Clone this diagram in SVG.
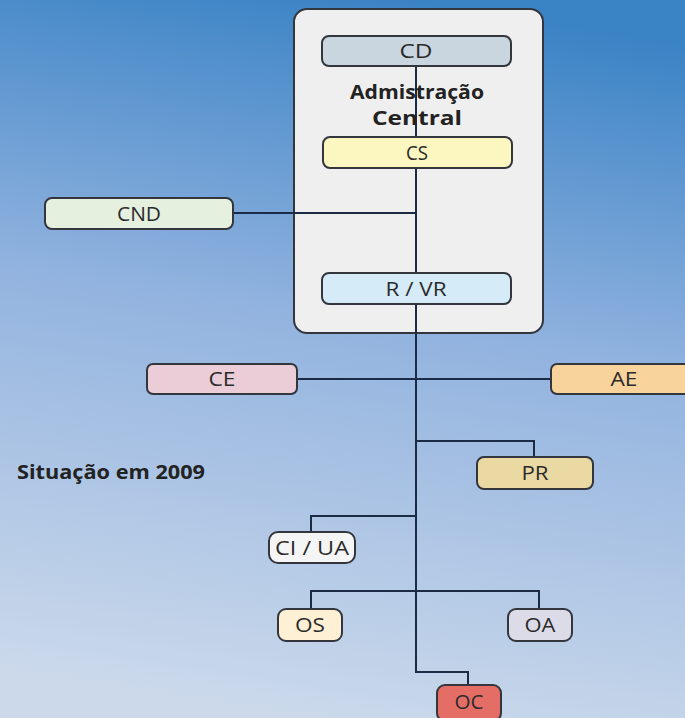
<svg xmlns="http://www.w3.org/2000/svg" width="685" height="718" viewBox="0 0 685 718">
<defs>
<linearGradient id="bg" x1="0.6" y1="0" x2="0.45" y2="1">
<stop offset="0" stop-color="#3a83c5"/>
<stop offset="0.45" stop-color="#92b3df"/>
<stop offset="1" stop-color="#cbd9eb"/>
</linearGradient>
<style>
.node rect{stroke:#33363d;stroke-width:2}
.lbl{font-family:"Open Sans","Liberation Sans",sans-serif;font-size:20px;fill:#2b2b2b;text-anchor:middle}
.bold{font-family:"Open Sans","Liberation Sans",sans-serif;font-size:19px;font-weight:bold;fill:#222;text-anchor:middle}
.conn{fill:none;stroke:#1b2a45;stroke-width:2}
</style>
</defs>
<rect x="0" y="0" width="685" height="718" fill="url(#bg)"/>
<g id="admin">
<rect x="294" y="9" width="249" height="324" rx="13" fill="#efefef" stroke="#33363d" stroke-width="2"/>
</g>
<g id="connectors">
<path class="conn" d="M416 66V137M416 168V273M233 213H416M416 304V672H468V685M297 379H551M416 441H534V457M416 516H311V532M311 609V591H539V609"/>
</g>
<g id="admin-label">
<text class="bold" x="417" y="99" textLength="134" lengthAdjust="spacingAndGlyphs">Admistração</text>
<text class="bold" x="417" y="125" textLength="90" lengthAdjust="spacingAndGlyphs">Central</text>
</g>
<g id="CD" class="node"><rect x="322" y="36" width="189" height="30" rx="7" fill="#c9d6e0"/><text class="lbl" x="416" y="58" textLength="33" lengthAdjust="spacingAndGlyphs">CD</text></g>
<g id="CS" class="node"><rect x="323" y="137" width="189" height="31" rx="7" fill="#fcf6c0"/><text class="lbl" x="417" y="159.5" textLength="22" lengthAdjust="spacingAndGlyphs">CS</text></g>
<g id="CND" class="node"><rect x="45" y="198" width="188" height="31" rx="7" fill="#e5f0df"/><text class="lbl" x="139" y="220.5" textLength="44" lengthAdjust="spacingAndGlyphs">CND</text></g>
<g id="RVR" class="node"><rect x="322" y="273" width="189" height="31" rx="7" fill="#d5ebf8"/><text class="lbl" x="416" y="295.5" textLength="61" lengthAdjust="spacingAndGlyphs">R / VR</text></g>
<g id="CE" class="node"><rect x="147" y="364" width="150" height="30" rx="6" fill="#ebcdd8"/><text class="lbl" x="222" y="386" textLength="27" lengthAdjust="spacingAndGlyphs">CE</text></g>
<g id="AE" class="node"><rect x="551" y="364" width="146" height="30" rx="6" fill="#f8d39b"/><text class="lbl" x="624" y="386" textLength="27" lengthAdjust="spacingAndGlyphs">AE</text></g>
<g id="PR" class="node"><rect x="477" y="457" width="116" height="32" rx="7" fill="#ebd9a3"/><text class="lbl" x="535" y="480" textLength="27" lengthAdjust="spacingAndGlyphs">PR</text></g>
<g id="CIUA" class="node"><rect x="269" y="532" width="86" height="31" rx="9" fill="#f5f5f5"/><text class="lbl" x="312" y="554.5" textLength="74" lengthAdjust="spacingAndGlyphs">CI / UA</text></g>
<g id="OS" class="node"><rect x="278" y="609" width="64" height="32" rx="8" fill="#fdf0d5"/><text class="lbl" x="310" y="632" textLength="30" lengthAdjust="spacingAndGlyphs">OS</text></g>
<g id="OA" class="node"><rect x="508" y="609" width="64" height="32" rx="8" fill="#dcdbe8"/><text class="lbl" x="540" y="632" textLength="31" lengthAdjust="spacingAndGlyphs">OA</text></g>
<g id="OC" class="node"><rect x="437" y="685" width="64" height="36" rx="8" fill="#e46e65"/><text class="lbl" x="469" y="709" textLength="29" lengthAdjust="spacingAndGlyphs">OC</text></g>
<g id="caption">
<text class="bold" x="17" y="479" style="text-anchor:start" textLength="188" lengthAdjust="spacingAndGlyphs">Situação em 2009</text>
</g>
</svg>
